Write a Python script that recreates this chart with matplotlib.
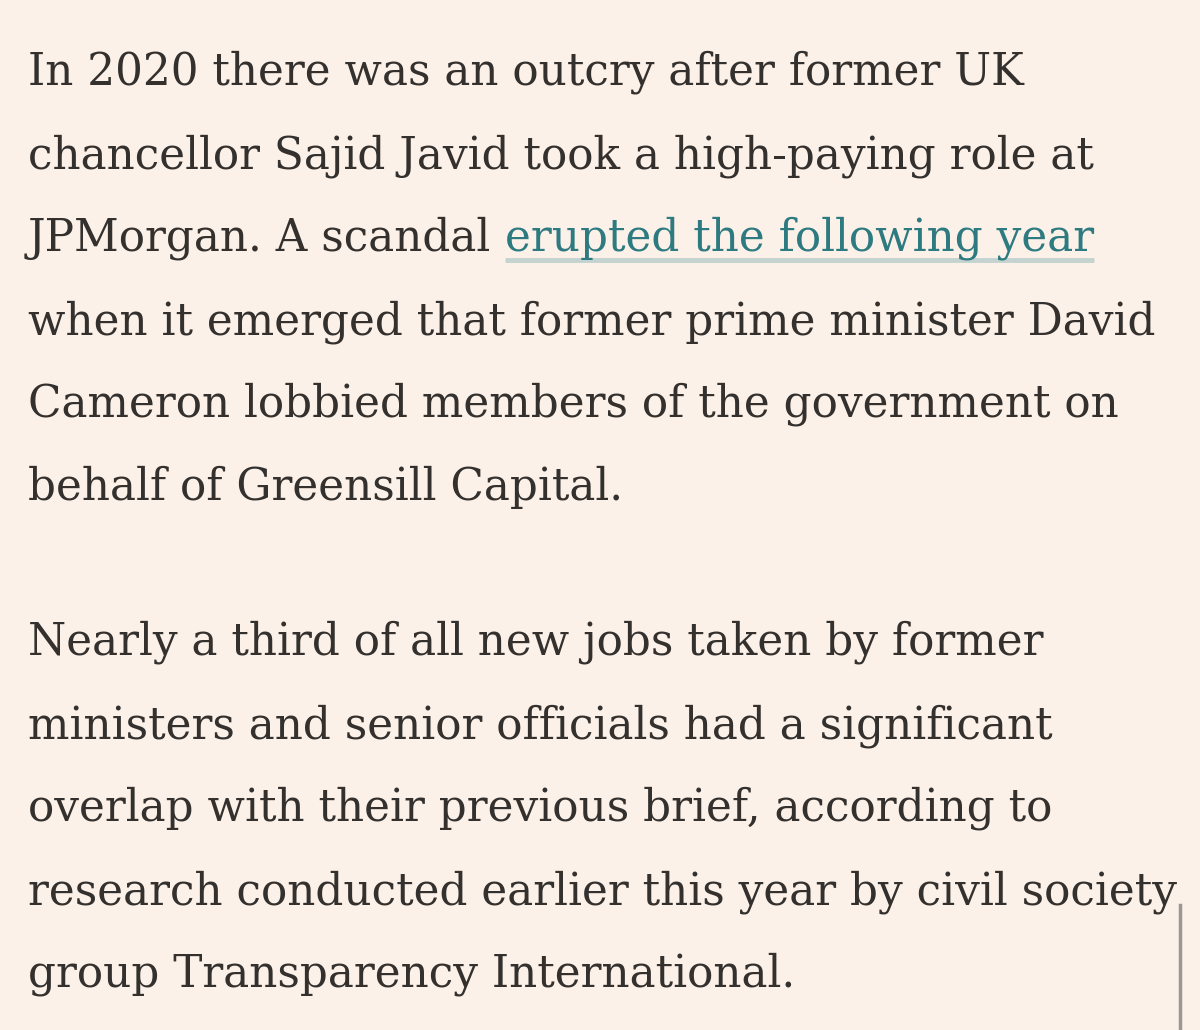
import matplotlib.pyplot as plt

# text content, one entry per rendered line
para1 = ["In 2020 there was an outcry after former UK",
         "chancellor Sajid Javid took a high-paying role at",
         None,  # line with link, built below
         "when it emerged that former prime minister David",
         "Cameron lobbied members of the government on",
         "behalf of Greensill Capital."]
link_prefix = "JPMorgan. A scandal "
link_text = "erupted the following year"
para2 = ["Nearly a third of all new jobs taken by former",
         "ministers and senior officials had a significant",
         "overlap with their previous brief, according to",
         "research conducted earlier this year by civil society",
         "group Transparency International."]

bg = "#fcf1e8"
ink = "#33302e"
teal = "#2d7a80"

fig = plt.figure(figsize=(12, 10.3), dpi=100, facecolor=bg)
ax = fig.add_axes([0, 0, 1, 1])
ax.set_xlim(0, 1200)
ax.set_ylim(1030, 0)
ax.axis('off')

fam = ['DejaVu Serif']
x0 = 28
step = 83

fig.canvas.draw()
r = fig.canvas.get_renderer()

# fit font size so the first line spans roughly 28..1025 px like the reference
probe = ax.text(0, 0, para1[0], family=fam, fontsize=30)
w = probe.get_window_extent(r).width
probe.remove()
fs = 30 * 997 / w

font = dict(family=fam, fontsize=fs, color=ink, va='baseline')

for i, line in enumerate(para1):
    y = 85 + step * i
    if line is None:
        t = ax.text(x0, y, link_prefix, **font)
        bb = t.get_window_extent(r)
        xl = ax.transData.inverted().transform((bb.x1, 0))[0]
        lt = ax.text(xl, y, link_text, **{**font, 'color': teal})
        bb2 = lt.get_window_extent(r)
        xr = ax.transData.inverted().transform((bb2.x1, 0))[0]
        ax.plot([xl, xr], [y + 9, y + 9], color='#c4d3cf', lw=3.5, solid_capstyle='butt')
    else:
        ax.text(x0, y, line, **font)

for i, line in enumerate(para2):
    ax.text(x0, 655 + step * i, line, **font)

# scrollbar
ax.plot([1180, 1180], [905, 1030], color='#9a9693', lw=2.5)

fig.savefig('out.png', dpi=100, facecolor=bg)
